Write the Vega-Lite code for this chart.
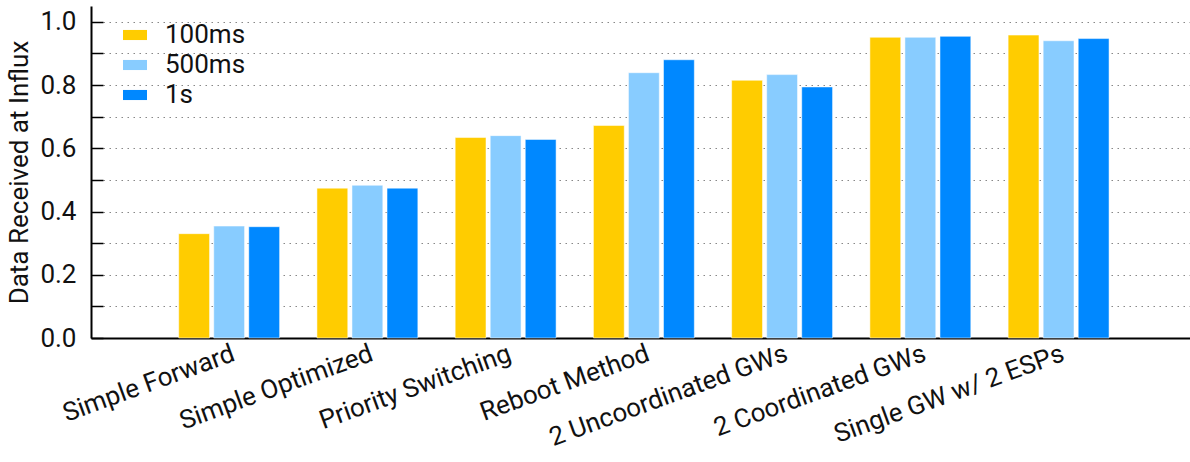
{
  "$schema": "https://vega.github.io/schema/vega-lite/v6.json",
  "width": 1099,
  "height": 332,
  "autosize": {"type": "none"},
  "padding": {"left": 91, "top": 6, "right": 0, "bottom": 124},
  "background": "white",
  "config": {
    "font": "Roboto",
    "view": {"stroke": null},
    "axis": {"labelFont": "Roboto", "titleFont": "Roboto", "labelColor": "#111", "titleColor": "#111"}
  },
  "data": {
    "values": [
      {"method": "Simple Forward", "interval": "100ms", "value": 0.330},
      {"method": "Simple Forward", "interval": "500ms", "value": 0.354},
      {"method": "Simple Forward", "interval": "1s", "value": 0.352},
      {"method": "Simple Optimized", "interval": "100ms", "value": 0.474},
      {"method": "Simple Optimized", "interval": "500ms", "value": 0.483},
      {"method": "Simple Optimized", "interval": "1s", "value": 0.474},
      {"method": "Priority Switching", "interval": "100ms", "value": 0.634},
      {"method": "Priority Switching", "interval": "500ms", "value": 0.640},
      {"method": "Priority Switching", "interval": "1s", "value": 0.628},
      {"method": "Reboot Method", "interval": "100ms", "value": 0.672},
      {"method": "Reboot Method", "interval": "500ms", "value": 0.839},
      {"method": "Reboot Method", "interval": "1s", "value": 0.880},
      {"method": "2 Uncoordinated GWs", "interval": "100ms", "value": 0.815},
      {"method": "2 Uncoordinated GWs", "interval": "500ms", "value": 0.833},
      {"method": "2 Uncoordinated GWs", "interval": "1s", "value": 0.794},
      {"method": "2 Coordinated GWs", "interval": "100ms", "value": 0.951},
      {"method": "2 Coordinated GWs", "interval": "500ms", "value": 0.951},
      {"method": "2 Coordinated GWs", "interval": "1s", "value": 0.954},
      {"method": "Single GW w/ 2 ESPs", "interval": "100ms", "value": 0.958},
      {"method": "Single GW w/ 2 ESPs", "interval": "500ms", "value": 0.940},
      {"method": "Single GW w/ 2 ESPs", "interval": "1s", "value": 0.947}
    ]
  },
  "mark": {"type": "bar", "stroke": "white", "strokeOpacity": 0.5, "strokeWidth": 1},
  "encoding": {
    "x": {
      "field": "method",
      "type": "nominal",
      "sort": null,
      "scale": {"paddingInner": 0.27, "paddingOuter": 0.61, "align": 0.52},
      "axis": {
        "title": null,
        "labelAngle": -20,
        "labelFontSize": 26,
        "labelLimit": 0,
        "labelPadding": 2,
        "ticks": false,
        "domainColor": "#000",
        "domainWidth": 2
      }
    },
    "xOffset": {
      "field": "interval",
      "type": "nominal",
      "sort": ["100ms", "500ms", "1s"],
      "scale": {"paddingInner": 0.12, "paddingOuter": 0}
    },
    "y": {
      "field": "value",
      "type": "quantitative",
      "scale": {"domain": [0, 1.05], "nice": false},
      "axis": {
        "title": "Data Received at Influx",
        "titleFontSize": 26,
        "titleFontWeight": "normal",
        "titlePadding": 7,
        "values": [0, 0.1, 0.2, 0.3, 0.4, 0.5, 0.6, 0.7, 0.8, 0.9, 1.0],
        "labelExpr": "round(datum.value * 10) % 2 === 0 ? format(datum.value, '.1f') : ''",
        "labelFontSize": 26,
        "labelPadding": 27,
        "tickSize": -12,
        "tickColor": "#000",
        "tickWidth": 1.5,
        "domainColor": "#000",
        "domainWidth": 2,
        "grid": true,
        "gridColor": "#888",
        "gridDash": [1.5, 4.5],
        "gridWidth": 1.2
      }
    },
    "color": {
      "field": "interval",
      "type": "nominal",
      "sort": ["100ms", "500ms", "1s"],
      "scale": {"domain": ["100ms", "500ms", "1s"], "range": ["#FFCC00", "#88CCFF", "#0088FF"]},
      "legend": {
        "title": null,
        "orient": "none",
        "legendX": 31,
        "legendY": 16,
        "padding": 0,
        "labelFontSize": 26,
        "labelOffset": 17,
        "labelColor": "#111",
        "symbolType": "M-1,-0.42H1V0.42H-1Z",
        "symbolSize": 576,
        "symbolStrokeWidth": 0,
        "symbolOpacity": 1,
        "rowPadding": 4
      }
    }
  }
}
